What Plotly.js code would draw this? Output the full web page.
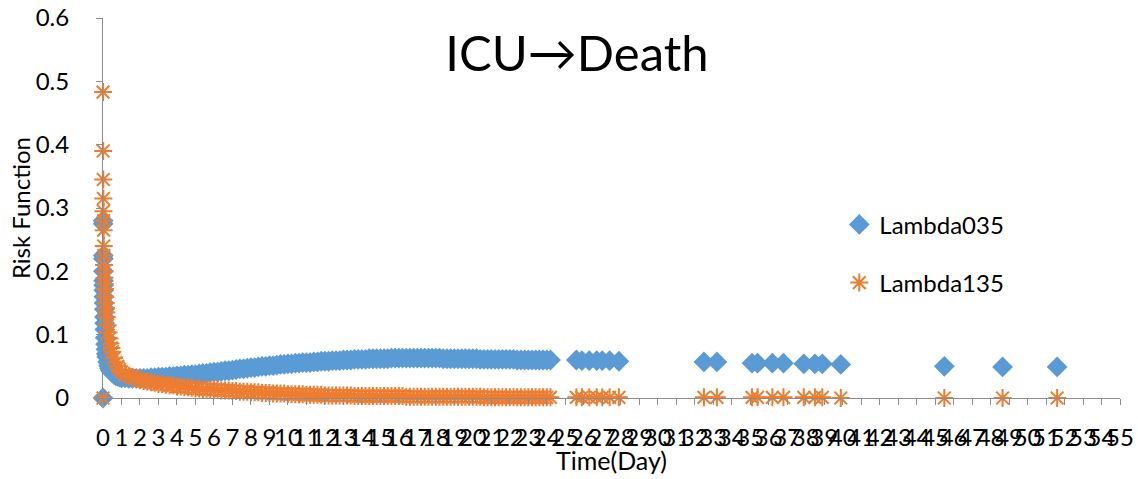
<!DOCTYPE html>
<html>
<head>
<meta charset="utf-8">
<script src="https://cdn.plot.ly/plotly-3.0.1.min.js"></script>
<style>html,body{margin:0;padding:0;background:#fff;}#chart{width:1138px;height:479px;}</style>
</head>
<body>
<div id="chart"></div>
<script>
const days = [0,0.005,0.01,0.015,0.02,0.025,0.03,0.035,0.04,0.05,0.06,0.07,0.08,0.09,0.1,0.12,0.14,0.16,0.18,0.2,
  0.25,0.3,0.35,0.4,0.45,0.5,0.6,0.7,0.8,0.9,
  1.0,1.2,1.4,1.6,1.8, 2.0,2.2,2.4,2.6,2.8, 3.0,3.2,3.4,3.6,3.8, 4.0,4.2,4.4,4.6,4.8,
  5.0,5.2,5.4,5.6,5.8, 6.0,6.2,6.4,6.6,6.8, 7.0,7.2,7.4,7.6,7.8, 8.0,8.2,8.4,8.6,8.8,
  9.0,9.2,9.4,9.6,9.8, 10.0,10.2,10.4,10.6,10.8, 11.0,11.2,11.4,11.6,11.8, 12.0,12.2,12.4,12.6,12.8,
  13.0,13.2,13.4,13.6,13.8, 14.0,14.2,14.4,14.6,14.8, 15.0,15.2,15.4,15.6,15.8, 16.0,16.2,16.4,16.6,16.8,
  17.0,17.2,17.4,17.6,17.8, 18.0,18.2,18.4,18.6,18.8, 19.0,19.2,19.4,19.6,19.8, 20.0,20.2,20.4,20.6,20.8,
  21.0,21.2,21.4,21.6,21.8, 22.0,22.2,22.4,22.6,22.8, 23.0,23.2,23.4,23.6,23.8, 24.0,24.2,
  25.6,25.9,26.3,26.7,27.0,27.4,27.9,32.5,33.2,35.1,35.4,36.2,36.8,37.9,38.5,38.9,39.9,45.5,48.65,51.6];
const lambda035 = [0,0.28,0.275,0.225,0.22,0.2,0.185,0.178,0.17,0.16,0.15,0.14,0.128,0.118,0.108,0.095,0.085,0.077,0.07,0.065,
  0.057,0.051,0.047,0.044,0.042,0.040,0.037,0.035,0.034,0.033,
  0.032,0.032,0.031,0.031,0.031, 0.031,0.031,0.031,0.032,0.032, 0.033,0.033,0.033,0.034,0.034, 0.035,0.035,0.036,0.036,0.037,
  0.037,0.038,0.039,0.039,0.040, 0.041,0.041,0.042,0.043,0.043, 0.044,0.045,0.046,0.046,0.047, 0.048,0.048,0.049,0.050,0.050,
  0.051,0.051,0.052,0.053,0.053, 0.054,0.054,0.055,0.055,0.056, 0.056,0.056,0.057,0.057,0.058, 0.058,0.058,0.059,0.059,0.059,
  0.060,0.060,0.060,0.061,0.061, 0.061,0.061,0.062,0.062,0.062, 0.062,0.062,0.062,0.063,0.063, 0.063,0.063,0.063,0.063,0.063,
  0.063,0.063,0.063,0.063,0.063, 0.063,0.063,0.062,0.062,0.062, 0.062,0.062,0.062,0.062,0.062, 0.062,0.062,0.061,0.061,0.061,
  0.061,0.061,0.061,0.061,0.061, 0.061,0.061,0.060,0.060,0.060, 0.060,0.060,0.060,0.060,0.060, 0.060,0.060,
  0.060,0.059,0.059,0.059,0.059,0.059,0.058,0.057,0.057,0.055,0.055,0.055,0.055,0.054,0.054,0.054,0.053,0.050,0.049,0.049];
const lambda135 = [0,0.483,0.39,0.345,0.315,0.295,0.28,0.265,0.24,0.225,0.21,0.2,0.19,0.18,0.172,0.16,0.15,0.142,0.135,0.128,
  0.115,0.104,0.094,0.086,0.079,0.073,0.063,0.056,0.050,0.045,
  0.041,0.037,0.035,0.033,0.031, 0.028,0.027,0.026,0.025,0.024, 0.022,0.022,0.021,0.020,0.020, 0.018,0.018,0.017,0.017,0.016,
  0.015,0.015,0.014,0.014,0.014, 0.013,0.013,0.012,0.012,0.012, 0.011,0.011,0.010,0.010,0.010, 0.009,0.009,0.009,0.008,0.008,
  0.008,0.007,0.007,0.007,0.007, 0.006,0.006,0.006,0.006,0.006, 0.005,0.005,0.005,0.005,0.005, 0.004,0.004,0.004,0.004,0.004,
  0.004,0.004,0.004,0.003,0.003, 0.003,0.003,0.003,0.003,0.003, 0.003,0.003,0.003,0.003,0.003, 0.003,0.003,0.002,0.002,0.002,
  0.002,0.002,0.002,0.002,0.002, 0.002,0.002,0.002,0.002,0.002, 0.002,0.002,0.002,0.002,0.002, 0.002,0.002,0.002,0.001,0.001,
  0.001,0.001,0.001,0.001,0.001, 0.001,0.001,0.001,0.001,0.001, 0.001,0.001,0.001,0.001,0.001, 0.001,0.001,
  0.001,0.001,0.001,0.001,0.001,0.001,0.001,0.001,0.001,0.001,0.001,0.001,0.001,0.001,0.001,0.001,0,0,0,0];
const xTicks = [0,1,2,3,4,5,6,7,8,9,10,11,12,13,14,15,16,17,18,19,20,21,22,23,24,25,26,27,
  28,29,30,31,32,33,34,35,36,37,38,39,40,41,42,43,44,45,46,47,48,49,50,51,52,53,54,55];
const yTicks = [0, 0.1, 0.2, 0.3, 0.4, 0.5, 0.6];
const yTickText = ['0','0.1','0.2','0.3','0.4','0.5','0.6'];
const seriesNames = ['Lambda035', 'Lambda135'];
const chartTitle = 'ICU\u2192Death';
const xTitle = 'Time(Day)';
const yTitle = 'Risk Function';

const FONT = 'Lato, "Open Sans", sans-serif';
const axisColor = '#8c8c8c';

const traces = [
  {x: days, y: lambda035, name: seriesNames[0], type: 'scatter', mode: 'markers', cliponaxis: false,
   legendgroup: 'a',
   marker: {symbol: 'diamond', size: 16, color: '#5b9bd5', line: {width: 0}}},
  {x: days, y: lambda135, name: seriesNames[1], type: 'scatter', mode: 'markers', cliponaxis: false,
   legendgroup: 'b',
   marker: {symbol: 'asterisk-open', size: 15, color: '#ed7d31', line: {width: 2, color: '#ed7d31'}}}
];

const layout = {
  width: 1138, height: 479,
  margin: {l: 103, r: 18, t: 18, b: 81},
  paper_bgcolor: '#fff', plot_bgcolor: '#fff',
  font: {family: FONT, color: '#000', size: 20},
  title: {text: chartTitle, font: {family: FONT, size: 49, color: '#000'}, x: 0.507, xanchor: 'center', y: 0.887, yanchor: 'middle'},
  xaxis: {range: [0, 55], tickmode: 'array', tickvals: xTicks, ticktext: xTicks.map(String),
    showgrid: false, zeroline: false, showline: true, linecolor: axisColor, linewidth: 1,
    ticks: 'outside', ticklen: 6, tickcolor: axisColor, tickangle: 0, ticklabelstandoff: 12,
    tickfont: {family: FONT, size: 24, color: '#000'}},
  yaxis: {range: [0, 0.6], tickmode: 'array', tickvals: yTicks, ticktext: yTickText,
    showgrid: false, zeroline: false, showline: true, linecolor: axisColor, linewidth: 1,
    ticks: 'outside', ticklen: 6, tickcolor: axisColor, ticklabelstandoff: 22,
    tickfont: {family: FONT, size: 24, color: '#000'}},
  annotations: [
    {text: xTitle, xref: 'paper', yref: 'paper', x: 0.5, y: -0.163, xanchor: 'center', yanchor: 'middle',
     showarrow: false, font: {family: FONT, size: 25, color: '#000'}},
    {text: yTitle, xref: 'paper', yref: 'paper', x: -0.0815, y: 0.5, xanchor: 'center', yanchor: 'middle',
     textangle: -90, showarrow: false, font: {family: FONT, size: 24, color: '#000'}}
  ],
  showlegend: true,
  legend: {x: 0.724, y: 0.515, xanchor: 'left', yanchor: 'top', bgcolor: 'rgba(0,0,0,0)',
    font: {family: FONT, size: 24, color: '#000'}, tracegroupgap: 24, itemsizing: 'trace'}
};

Plotly.newPlot('chart', traces, layout, {displayModeBar: false, staticPlot: true});
</script>
</body>
</html>
